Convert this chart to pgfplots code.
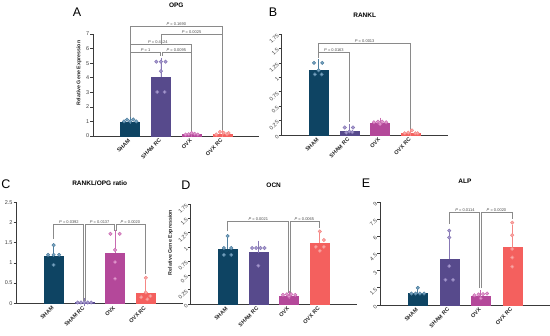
\documentclass[border=0pt]{standalone}
\usepackage{pgfplots}
\pgfplotsset{compat=1.18}
\usepackage{fontspec}
\setmainfont{Liberation Sans}

\definecolor{axisgray}{HTML}{3A3A3A}
\definecolor{cSham}{HTML}{0E4463}
\definecolor{cShamE}{HTML}{4F7E9E}
\definecolor{cShamL}{HTML}{79A5C2}
\definecolor{cRC}{HTML}{574A8C}
\definecolor{cRCE}{HTML}{8778B5}
\definecolor{cRCL}{HTML}{A89DD0}
\definecolor{cOVX}{HTML}{B4489A}
\definecolor{cOVXE}{HTML}{C86AB0}
\definecolor{cOVXL}{HTML}{E39CD0}
\definecolor{cORC}{HTML}{F4605E}
\definecolor{cORCE}{HTML}{F58785}
\definecolor{cORCL}{HTML}{F9AAA8}
\definecolor{brkgray}{HTML}{8A8A8A}

\tikzset{
  brkline/.style={draw=brkgray, line width=0.7pt},
  plab/.style={font=\fontsize{4}{4.5}\selectfont, anchor=south, inner sep=0.7pt, text=black!70},
}

\pgfplotsset{
  panel/.style={
    scale only axis, width=166pt, height=101pt,
    anchor=south west,
    axis x line=bottom, axis y line=left,
    axis line style={-, line width=0.8pt, draw=axisgray},
    xmin=-1.2, xmax=4.2, ymin=0,
    xtick={0,1,2,3}, xticklabels={SHAM,SHAM RC,OVX,OVX RC},
    x tick label style={rotate=45, anchor=east, font=\fontsize{5.5}{6}\selectfont\bfseries, text=black!85, inner sep=1pt},
    x tick style={draw=none},
    y tick style={draw=axisgray, line width=0.7pt},
    tick align=outside, major tick length=3pt,
    y tick label style={font=\fontsize{5.5}{6}\selectfont, text=black!75, inner sep=1pt},
    /pgf/number format/assume math mode=true,
    clip=false,
    every axis title/.style={at={(0.5,1)}, anchor=center, font=\fontsize{6.5}{7}\selectfont\bfseries},
    ylabel style={font=\fontsize{5.3}{6}\selectfont\bfseries, text=black!85, at={(ticklabel cs:0.615)}},
  },
  rotticks/.style={y tick label style={rotate=45, anchor=east}},
}

% bar: x, mean, err, fill, errcolor
\newcommand{\bbar}[5]{\addplot[ybar, bar shift=0pt, bar width=19pt, fill=#4, draw=#4, line width=0.4pt,
  error bars/.cd, y dir=plus, y explicit, error bar style={draw=#5, line width=0.8pt},
  error mark options={draw=#5, mark size=4pt, line width=0.8pt}] coordinates {(#1,#2) +- (0,#3)};}
% points: fill, draw, coords
\newcommand{\pts}[3]{\addplot[only marks, mark=*, mark size=1.7pt, mark options={fill=#1, draw=#2, line width=0.5pt}] coordinates {#3};}
% bracket: x1, y1low, x2, y2low, level, labelx, label
\newcommand{\brk}[7]{%
  \draw[brkline] (axis cs:#1,#2) -- (axis cs:#1,#5) -- (axis cs:#3,#5) -- (axis cs:#3,#4);
  \node[plab] at (axis cs:#6,#5) {\textit{P} = #7};}

\begin{document}
\begin{tikzpicture}
\path[use as bounding box] (0,0) rectangle (550pt,-336pt);

% ---------------- A: OPG ----------------
\begin{axis}[panel, at={(93.3pt,-136pt)}, height=102pt, ymax=7, ytick={0,1,...,7},
  title={OPG}, title style={yshift=29pt}, ylabel={Relative Gene Expression}]
\bbar{0}{0.96}{0.12}{cSham}{cShamE}
\bbar{1}{4.05}{1.05}{cRC}{cRCE}
\bbar{2}{0.12}{0.06}{cOVX}{cOVXE}
\bbar{3}{0.13}{0.09}{cORC}{cORCE}
\pts{cShamL}{cShamE}{(-0.2,1.0)(-0.1,1.12)(0,1.0)(0.1,1.13)(0.2,1.0)}
\pts{cRCL}{cRCE}{(0.85,5.1)(1,5.1)(1.15,5.1)(1,4.45)(0.88,3.02)(1.12,3.02)}
\pts{cOVXL}{cOVXE}{(1.8,0.1)(1.9,0.12)(2,0.2)(2.1,0.15)(2.2,0.1)}
\pts{cORCL}{cORCE}{(2.8,0.1)(2.92,0.28)(3.04,0.22)(3.15,0.12)(3.2,0.2)}
\brk{0}{1.3}{0.965}{5.5}{5.72}{0.5}{1}
\brk{1.035}{5.5}{2}{0.35}{5.72}{1.5}{0.0095}
\brk{0}{1.3}{2}{0.35}{6.29}{0.9}{0.4124}
\brk{1}{6.29}{3}{0.4}{6.98}{2}{0.0025}
\brk{0}{1.3}{3}{0.4}{7.55}{1.5}{0.1690}
\end{axis}

% ---------------- B: RANKL ----------------
\begin{axis}[panel, rotticks, at={(281.7pt,-135pt)}, ymax=1.75, ytick={0,0.25,...,1.75},
  title={RANKL}, title style={yshift=19pt}]
\bbar{0}{1.13}{0.12}{cSham}{cShamE}
\bbar{1}{0.06}{0.06}{cRC}{cRCE}
\bbar{2}{0.2}{0.03}{cOVX}{cOVXE}
\bbar{3}{0.035}{0.02}{cORC}{cORCE}
\pts{cShamL}{cShamE}{(-0.15,1.25)(0.12,1.25)(0,1.12)(-0.12,1.05)(0.1,1.05)}
\pts{cRCL}{cRCE}{(0.85,0.13)(1.12,0.13)(1,0.06)(0.9,0.04)(1.1,0.05)}
\pts{cOVXL}{cOVXE}{(1.8,0.22)(1.93,0.23)(2.07,0.23)(2.2,0.22)(2,0.19)}
\pts{cORCL}{cORCE}{(2.8,0.03)(2.92,0.04)(3.04,0.08)(3.15,0.03)(3.22,0.03)}
\brk{0}{1.33}{1}{0.22}{1.43}{0.5}{0.0163}
\brk{0}{1.33}{3}{0.1}{1.59}{1.5}{0.0013}
\end{axis}

% ---------------- C: RANKL/OPG ratio ----------------
\begin{axis}[panel, at={(16.7pt,-303.3pt)}, ymax=2.5, ytick={0,0.5,...,2.5},
  title={RANKL/OPG ratio}, title style={yshift=19.5pt}]
\bbar{0}{1.17}{0.17}{cSham}{cShamE}
\bbar{1}{0.02}{0.005}{cRC}{cRCE}
\bbar{2}{1.25}{0.47}{cOVX}{cOVXE}
\bbar{3}{0.26}{0.23}{cORC}{cORCE}
\pts{cShamL}{cShamE}{(0,1.44)(-0.18,1.2)(0,1.2)(0.18,1.2)(0,0.95)}
\pts{cRCL}{cRCE}{(0.78,0.02)(0.89,0.02)(1,0.02)(1.11,0.02)(1.22,0.02)}
\pts{cOVXL}{cOVXE}{(1.85,1.72)(2.15,1.72)(2,1.32)(2,1.02)(2,0.61)}
\pts{cORCL}{cORCE}{(3,0.63)(3,0.27)(2.85,0.15)(3.15,0.18)(3.05,0.1)}
\brk{0}{1.6}{0.965}{0.05}{1.95}{0.5}{0.0392}
\brk{1.035}{0.05}{1.965}{1.8}{1.95}{1.5}{0.0137}
\brk{2.035}{1.8}{3}{0.72}{1.95}{2.5}{0.0020}
\end{axis}

% ---------------- D: OCN ----------------
\begin{axis}[panel, rotticks, at={(190.7pt,-304pt)}, height=100pt, ymax=1.75, ytick={0,0.25,...,1.75},
  title={OCN}, title style={yshift=19pt}, ylabel={Relative Gene Expression}]
\bbar{0}{0.96}{0.14}{cSham}{cShamE}
\bbar{1}{0.9}{0.14}{cRC}{cRCE}
\bbar{2}{0.14}{0.02}{cOVX}{cOVXE}
\bbar{3}{1.06}{0.13}{cORC}{cORCE}
\pts{cShamL}{cShamE}{(0,1.19)(-0.12,0.98)(0.12,0.98)(-0.12,0.86)(0.12,0.86)}
\pts{cRCL}{cRCE}{(0.8,0.98)(0.93,0.98)(1.07,0.98)(1.2,0.98)(1,0.67)}
\pts{cOVXL}{cOVXE}{(1.8,0.16)(1.93,0.17)(2.07,0.17)(2.2,0.16)(2,0.13)}
\pts{cORCL}{cORCE}{(3,1.27)(3.13,1.12)(2.87,1.0)(3,0.93)(3.13,1.0)}
\brk{0}{1.27}{1.965}{0.19}{1.44}{1}{0.0021}
\brk{2.035}{0.19}{3}{1.33}{1.44}{2.5}{0.0065}
\end{axis}

% ---------------- E: ALP ----------------
\begin{axis}[panel, rotticks, at={(380pt,-305pt)}, width=170pt, height=103pt, ymax=9, ytick={0,1.5,...,9},
  title={ALP}, title style={yshift=21pt}]
\bbar{0}{1.0}{0.3}{cSham}{cShamE}
\bbar{1}{3.98}{2.1}{cRC}{cRCE}
\bbar{2}{0.75}{0.2}{cOVX}{cOVXE}
\bbar{3}{5.08}{1.54}{cORC}{cORCE}
\pts{cShamL}{cShamE}{(0,1.5)(-0.2,1.0)(-0.07,1.0)(0.07,1.0)(0.2,1.0)}
\pts{cRCL}{cRCE}{(1,6.5)(1,5.9)(1,3.4)(0.88,2.2)(1.12,2.2)}
\pts{cOVXL}{cOVXE}{(1.8,0.85)(1.93,0.92)(2.07,0.95)(2.2,1.0)(2,0.58)}
\pts{cORCL}{cORCE}{(3,7.2)(3,6.1)(3,4.9)(3,4.15)(3,3.35)}
\brk{1}{7.1}{1.965}{1.45}{8.07}{1.5}{0.0114}
\brk{2.035}{1.45}{3}{7.55}{8.07}{2.5}{0.0020}
\end{axis}

% panel letters
\node[font=\fontsize{12.5}{13}\selectfont] at (77pt,-12pt) {A};
\node[font=\fontsize{12.5}{13}\selectfont] at (273pt,-12pt) {B};
\node[font=\fontsize{12.5}{13}\selectfont] at (6pt,-184pt) {C};
\node[font=\fontsize{12.5}{13}\selectfont] at (186pt,-185pt) {D};
\node[font=\fontsize{12.5}{13}\selectfont] at (366pt,-183pt) {E};
\end{tikzpicture}
\end{document}
